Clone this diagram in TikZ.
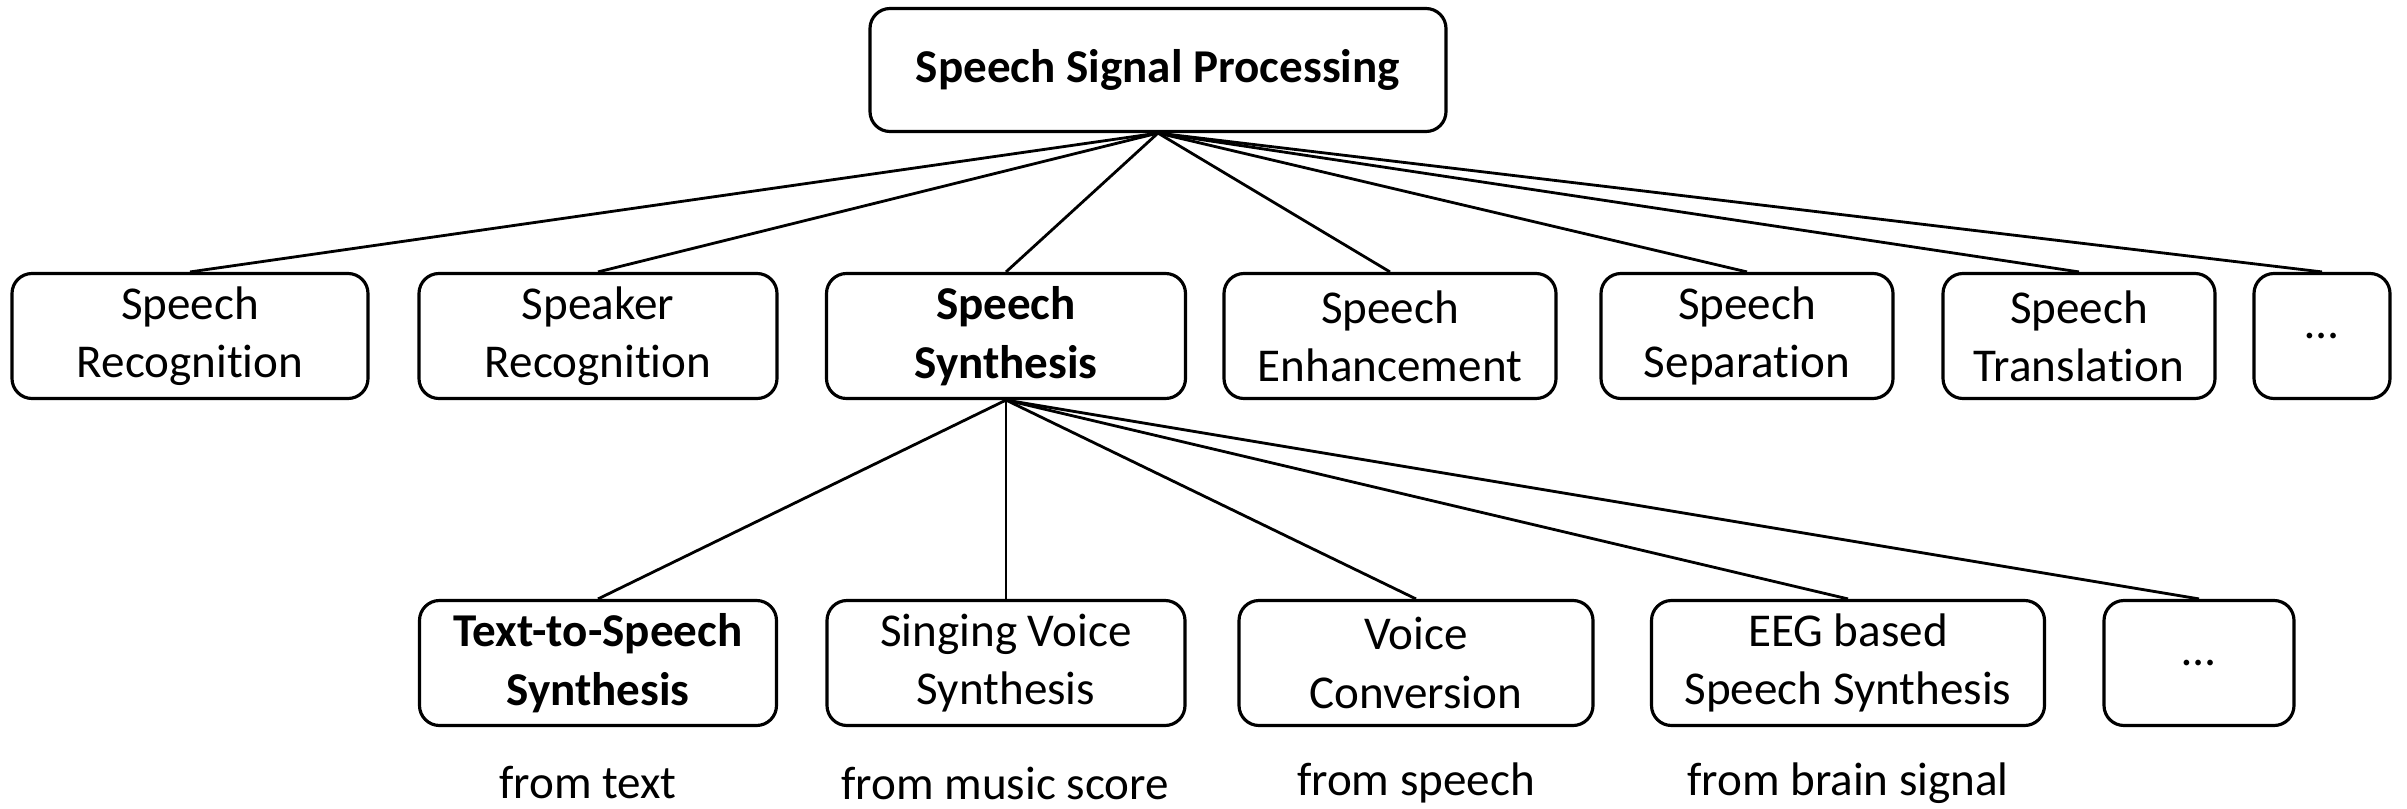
\documentclass[tikz,border=0pt]{standalone}
\usepackage{fontspec}
\setmainfont[Ligatures=CommonOff]{Carlito}
\usepackage{tikz}
\usetikzlibrary{positioning}

\begin{document}
\begin{tikzpicture}[
    box/.style={draw, rounded corners=0.2cm, line width=0.9pt, align=center, inner sep=0pt, minimum height=1.25cm},
    link/.style={line width=0.8pt},
    every node/.style={font=\fontsize{13.4}{16.6}\selectfont}
  ]
    \useasboundingbox (0,0) rectangle (24.07,-8.08);

    % root
    \node[box, minimum width=5.76cm, minimum height=1.23cm] (SSP) at (11.58,-0.70) {\textbf{Speech Signal Processing}};

    % first level
    \node[box, minimum width=3.56cm] (SR)  at (1.90,-3.36)  {Speech\\Recognition};
    \node[box, minimum width=3.58cm] (SpR) at (5.98,-3.36)  {Speaker\\Recognition};
    \node[box, minimum width=3.59cm] (SS)  at (10.06,-3.36) {\textbf{Speech}\\\textbf{Synthesis}};
    \node[box, minimum width=3.32cm] (SE)  at (13.90,-3.36) {Speech\\Enhancement};
    \node[box, minimum width=2.92cm] (SSe) at (17.47,-3.36) {Speech\\Separation};
    \node[box, minimum width=2.72cm] (ST)  at (20.79,-3.36) {Speech\\Translation};
    \node[box, minimum width=1.36cm] (M1)  at (23.22,-3.36) {…};

    % second level
    \node[box, minimum width=3.57cm] (TTS) at (5.98,-6.63)  {\textbf{Text-to-Speech}\\\textbf{Synthesis}};
    \node[box, minimum width=3.58cm] (SVS) at (10.06,-6.63) {Singing Voice\\Synthesis};
    \node[box, minimum width=3.54cm] (VC)  at (14.16,-6.63) {Voice\\Conversion};
    \node[box, minimum width=3.93cm] (EEG) at (18.48,-6.63) {EEG based\\Speech Synthesis};
    \node[box, minimum width=1.90cm] (M2)  at (21.99,-6.63) {…};

    % inputs
    \node (inTTS) at (5.88,-7.83)  {from text};
    \node (inSVS) at (10.05,-7.83) {from music score};
    \node (inVC)  at (14.16,-7.83) {from speech};
    \node (inEEG) at (18.48,-7.83) {from brain signal};

    \foreach \n in {SR,SpR,SS,SE,SSe,ST,M1}
        \draw[link] (SSP.south) -- (\n.north);
    \foreach \n in {TTS,SVS,VC,EEG,M2}
        \draw[link] (SS.south) -- (\n.north);
\end{tikzpicture}
\end{document}
